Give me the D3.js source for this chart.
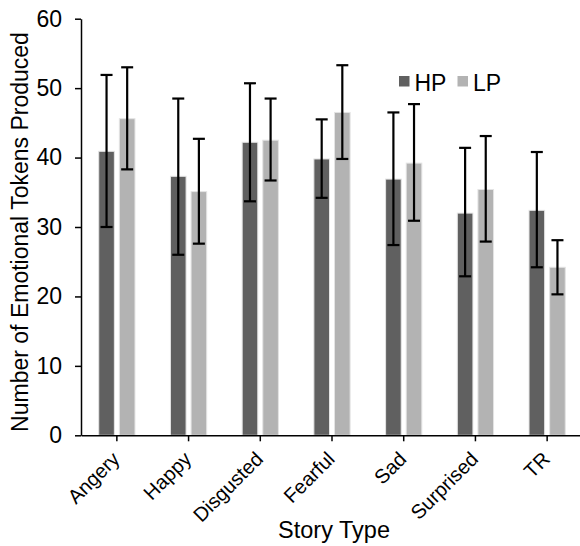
<!DOCTYPE html>
<html><head><meta charset="utf-8">
<script src="https://cdn.jsdelivr.net/npm/d3@7"></script>
<style>
html,body{margin:0;padding:0;background:#fff;}
text{font-family:"Liberation Sans",Arial,Helvetica,sans-serif;fill:#000;}
</style></head>
<body>
<svg id="chart" width="580" height="546"></svg>
<script>
const categories = ["Angery","Happy","Disgusted","Fearful","Sad","Surprised","TR"];
const seriesNames = ["HP","LP"];
const hpValues = [40.9, 37.3, 42.2, 39.8, 36.9, 32.0, 32.4];
const lpValues = [45.6, 35.1, 42.5, 46.5, 39.2, 35.4, 24.2];
const hpLow  = [30.0, 26.0, 33.7, 34.2, 27.4, 22.9, 24.2];
const hpHigh = [51.9, 48.5, 50.7, 45.5, 46.5, 41.4, 40.8];
const lpLow  = [38.3, 27.6, 36.7, 39.8, 30.9, 27.9, 20.3];
const lpHigh = [53.0, 42.7, 48.5, 53.3, 47.7, 43.1, 28.1];
const yTicks = [0,10,20,30,40,50,60];
const yTitle = "Number of Emotional Tokens Produced";
const xTitle = "Story Type";
const colors = {HP:"#606060", LP:"#b3b3b3"};

const rows = categories.map((c,i)=>({
  cat:c,
  bars:[
    {s:"HP", v:hpValues[i], lo:hpLow[i], hi:hpHigh[i]},
    {s:"LP", v:lpValues[i], lo:lpLow[i], hi:lpHigh[i]}
  ]
}));

const svg = d3.select("#chart");
const mLeft = 81, mRight = 583, mTop = 18.7, mBottom = 435.3;

const x0 = d3.scaleBand().domain(categories).range([mLeft,mRight]).padding(0);
const x1 = d3.scaleBand().domain(seriesNames).range([0,x0.bandwidth()]).paddingInner(0.243).paddingOuter(0.86);
const y = d3.scaleLinear().domain([0,60]).range([mBottom,mTop]);

// bars
const g = svg.append("g");
const groups = g.selectAll("g.grp").data(rows).enter().append("g")
  .attr("transform", d=>`translate(${x0(d.cat)},0)`);
groups.selectAll("rect").data(d=>d.bars).enter().append("rect")
  .attr("x", d=>x1(d.s))
  .attr("y", d=>y(d.v))
  .attr("width", x1.bandwidth())
  .attr("height", d=>y(0)-y(d.v))
  .attr("fill", d=>colors[d.s])
  .attr("stroke", "#e4e4e4")
  .attr("stroke-width", 1);

// error bars
const cap = 6;
const eb = groups.selectAll("g.eb").data(d=>d.bars).enter().append("g")
  .attr("stroke","#000").attr("stroke-width",2.2);
eb.append("line")
  .attr("x1", d=>x1(d.s)+x1.bandwidth()/2).attr("x2", d=>x1(d.s)+x1.bandwidth()/2)
  .attr("y1", d=>y(d.lo)).attr("y2", d=>y(d.hi));
eb.append("line")
  .attr("x1", d=>x1(d.s)+x1.bandwidth()/2-cap).attr("x2", d=>x1(d.s)+x1.bandwidth()/2+cap)
  .attr("y1", d=>y(d.hi)).attr("y2", d=>y(d.hi));
eb.append("line")
  .attr("x1", d=>x1(d.s)+x1.bandwidth()/2-cap).attr("x2", d=>x1(d.s)+x1.bandwidth()/2+cap)
  .attr("y1", d=>y(d.lo)).attr("y2", d=>y(d.lo));

// y axis
const yAxis = svg.append("g").attr("transform",`translate(${mLeft},0)`)
  .call(d3.axisLeft(y).tickValues(yTicks).tickSize(6).tickSizeOuter(0).tickPadding(13));
yAxis.selectAll("text").style("font-size","23px");
yAxis.selectAll("line,path").attr("stroke","#000").attr("stroke-width",1.5);

// x axis
const xAxis = svg.append("g").attr("transform",`translate(0,${mBottom})`)
  .call(d3.axisBottom(x0).tickSize(6).tickSizeOuter(0));
xAxis.selectAll("line,path").attr("stroke","#000").attr("stroke-width",1.5);
xAxis.selectAll("text")
  .style("font-size","20px")
  .attr("text-anchor","end")
  .attr("dy","0")
  .attr("y",0)
  .attr("transform","translate(4,25) rotate(-45)");

// titles
svg.append("text")
  .attr("transform",`translate(27.5,232) rotate(-90)`)
  .attr("text-anchor","middle")
  .style("font-size","23px")
  .text(yTitle);
svg.append("text")
  .attr("x",334).attr("y",538)
  .attr("text-anchor","middle")
  .style("font-size","23.5px")
  .text(xTitle);

// legend
const legendPos = [{s:"HP", x:399}, {s:"LP", x:457.5}];
const lg = svg.append("g");
legendPos.forEach(p=>{
  lg.append("rect").attr("x",p.x).attr("y",76).attr("width",10.5).attr("height",10.5).attr("fill",colors[p.s]);
  lg.append("text").attr("x",p.x+15.5).attr("y",91).style("font-size","23px").text(p.s);
});
</script>
</body></html>
